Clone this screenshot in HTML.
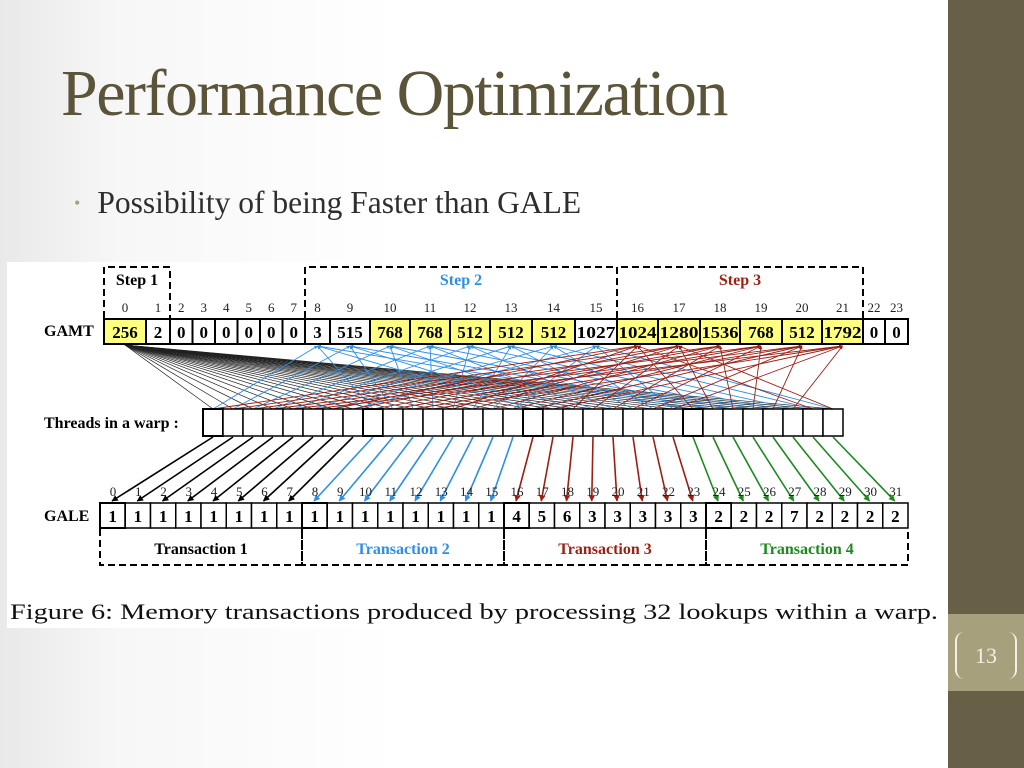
<!DOCTYPE html>
<html><head><meta charset="utf-8">
<style>
html,body{margin:0;padding:0;}
body{width:1024px;height:768px;overflow:hidden;position:relative;background:linear-gradient(90deg,#e9e9e9 0px,#f7f7f7 120px,#ffffff 400px);font-family:"Liberation Serif",serif;}
#title{position:absolute;left:61px;top:56px;font-size:66px;color:#5b5439;letter-spacing:-1.5px;white-space:nowrap;}
#bullet{position:absolute;left:74px;top:185px;font-size:31.5px;color:#2e2e2e;white-space:nowrap;}
#bullet span{color:#a9a27f;font-size:18px;margin-right:17px;position:relative;top:-4px;}
#side{position:absolute;left:948px;top:0;width:76px;height:768px;background:#685f47;}
#side-tan{position:absolute;left:948px;top:614px;width:76px;height:77px;background:#a6a07d;}
#pg{position:absolute;left:955px;top:632px;width:62px;height:47px;border-left:2px solid #f4f0e2;border-right:2px solid #f4f0e2;border-radius:9px;box-sizing:border-box;color:#f4f0e2;font-size:22px;text-align:center;line-height:47px;}
#fig{position:absolute;left:0;top:0;}
</style></head><body>
<div id="side"></div>
<div id="side-tan"></div>
<div id="pg">13</div>
<div id="title">Performance Optimization</div>
<div id="bullet"><span>•</span>Possibility of being Faster than GALE</div>
<svg id="fig" width="948" height="640" xmlns="http://www.w3.org/2000/svg">
<defs>
<marker id="mb" viewBox="0 0 10 10" refX="9" refY="5" markerWidth="4" markerHeight="4" orient="auto"><path d="M0,0L10,5L0,10z" fill="#000"/></marker>
<marker id="mbl" viewBox="0 0 10 10" refX="9" refY="5" markerWidth="4" markerHeight="4" orient="auto"><path d="M0,0L10,5L0,10z" fill="#2d8fe6"/></marker>
<marker id="mr" viewBox="0 0 10 10" refX="9" refY="5" markerWidth="4" markerHeight="4" orient="auto"><path d="M0,0L10,5L0,10z" fill="#9c1f14"/></marker>
<marker id="mg" viewBox="0 0 10 10" refX="9" refY="5" markerWidth="4" markerHeight="4" orient="auto"><path d="M0,0L10,5L0,10z" fill="#1d8a1d"/></marker>
</defs>
<rect x="7" y="262" width="939" height="366" fill="#fff"/>
<g id="g"></g>
</svg>
<script>
const gamtValues=["256","2","0","0","0","0","0","0","3","515","768","768","512","512","512","1027","1024","1280","1536","768","512","1792","0","0"];
const gamtHighlight=[1,0,0,0,0,0,0,0,0,0,1,1,1,1,1,0,1,1,1,1,1,1,0,0];
const gamtEdges=[104,146,170,192.5,215,237.5,260,282.5,305,330,370,410,450,490,532,575,617,658,700,740,782,822,863,885,908];
const galeValues=[1,1,1,1,1,1,1,1,1,1,1,1,1,1,1,1,4,5,6,3,3,3,3,3,2,2,2,7,2,2,2,2];
const stepLabels=["Step 1","Step 2","Step 3"];
const txLabels=["Transaction 1","Transaction 2","Transaction 3","Transaction 4"];
const colors=["#000","#2d8fe6","#9c1f14","#1d8a1d"];
const mks=["mb","mbl","mr","mg"];
const g=document.getElementById('g');
const NS="http://www.w3.org/2000/svg";
function el(t,a,txt){const e=document.createElementNS(NS,t);for(const k in a)e.setAttribute(k,a[k]);if(txt!==undefined)e.textContent=txt;g.appendChild(e);return e;}
const B='font-family:"Liberation Serif",serif;font-weight:bold;';
const R='font-family:"Liberation Serif",serif;';
const thX=i=>203+20*i, thY0=409, thY1=436;
const gaX=i=>100+808/32*i, gaY0=503, gaY1=528;
const gc=i=>(gamtEdges[i]+gamtEdges[i+1])/2;
for(let t=0;t<32;t++){
 let e=el('line',{x1:gc(0),y1:345,x2:thX(t)+10,y2:thY0,stroke:'#222','stroke-width':0.7});
 
 
}
for(let t=0;t<32;t++){
 const c=8+(t%8);
 let e=el('line',{x1:thX(t)+10,y1:thY0,x2:gc(c),y2:346,stroke:'#2d8fe6','stroke-width':0.9,'marker-end':'url(#mbl)'});
 
 
}
for(let t=0;t<32;t++){
 const c=16+(t%6);
 let e=el('line',{x1:thX(t)+10,y1:thY0,x2:gc(c),y2:346,stroke:'#9c1f14','stroke-width':0.9,'marker-end':'url(#mr)'});
 
 
}
const stepBoxes=[[104,170,'#000'],[305,617,'#2d8fe6'],[617,863,'#9c1f14']];
stepBoxes.forEach((b,i)=>{
 let p=el('path',{d:`M${b[0]},318V267H${b[1]}V318`,fill:'none',stroke:'#000','stroke-width':2,'stroke-dasharray':'7,4'});
 
 
 let t=el('text',{x:(b[0]+b[1])/2,y:285,'text-anchor':'middle','font-size':16,fill:b[2],style:B},stepLabels[i]);
 
 
});
let lb=el('text',{x:44,y:336,'font-size':16,style:B},'GAMT');


for(let i=0;i<gamtValues.length;i++){
 const x0=gamtEdges[i],x1=gamtEdges[i+1];
 let r=el('rect',{x:x0,y:319,width:x1-x0,height:25,fill:gamtHighlight[i]?'#ffff80':'#fff',stroke:'#000','stroke-width':2});
 
 
 const v=gamtValues[i];
 let t=el('text',{x:(x0+x1)/2,y:338,'text-anchor':'middle','font-size':17,style:B},v);
 if(v.length==4){t.setAttribute('textLength',x1-x0-3);t.setAttribute('lengthAdjust','spacingAndGlyphs');}
 
 
 let n=el('text',{x:(x0+x1)/2,y:312,'text-anchor':'middle','font-size':13,fill:'#222',style:R},i);
 
 
}
let tl=el('text',{x:44,y:428,'font-size':16,style:B},'Threads in a warp :');


for(let i=0;i<32;i++){
 let r=el('rect',{x:thX(i),y:thY0,width:20,height:27,fill:'#fff',stroke:'#000','stroke-width':(i%8==0?2:1.5)});
 
 
}
for(let i=0;i<32;i++){
 const q=Math.floor(i/8);
 let e=el('line',{x1:thX(i)+10,y1:thY1+1,x2:gaX(i)+12,y2:gaY0-2,stroke:colors[q],'stroke-width':1.6,'marker-end':`url(#${mks[q]})`});
 
 
 let n=el('text',{x:gaX(i)+13,y:496,'text-anchor':'middle','font-size':13,fill:'#222',style:R},i);
 
 
}
let gl=el('text',{x:44,y:521,'font-size':16,style:B},'GALE');


for(let i=0;i<32;i++){
 let r=el('rect',{x:gaX(i),y:gaY0,width:808/32,height:25,fill:'#fff',stroke:'#000','stroke-width':(i%8==0?2:1.5)});
 
 
 let t=el('text',{x:gaX(i)+12.6,y:522,'text-anchor':'middle','font-size':17,style:B},galeValues[i]);
 
 
}
for(let k=0;k<4;k++){
 const x0=100+202*k,x1=x0+202;
 let p=el('path',{d:`M${x0},529V565H${x1}V529`,fill:'none',stroke:'#000','stroke-width':2,'stroke-dasharray':'7,4'});
 
 
 let t=el('text',{x:(x0+x1)/2,y:554,'text-anchor':'middle','font-size':16,fill:colors[k],style:B},txLabels[k]);
 
 
}
let cap=el('text',{x:10,y:619,'font-size':22,fill:'#111',textLength:928,lengthAdjust:'spacingAndGlyphs',style:R},'Figure 6: Memory transactions produced by processing 32 lookups within a warp.');


</script>
</body></html>
